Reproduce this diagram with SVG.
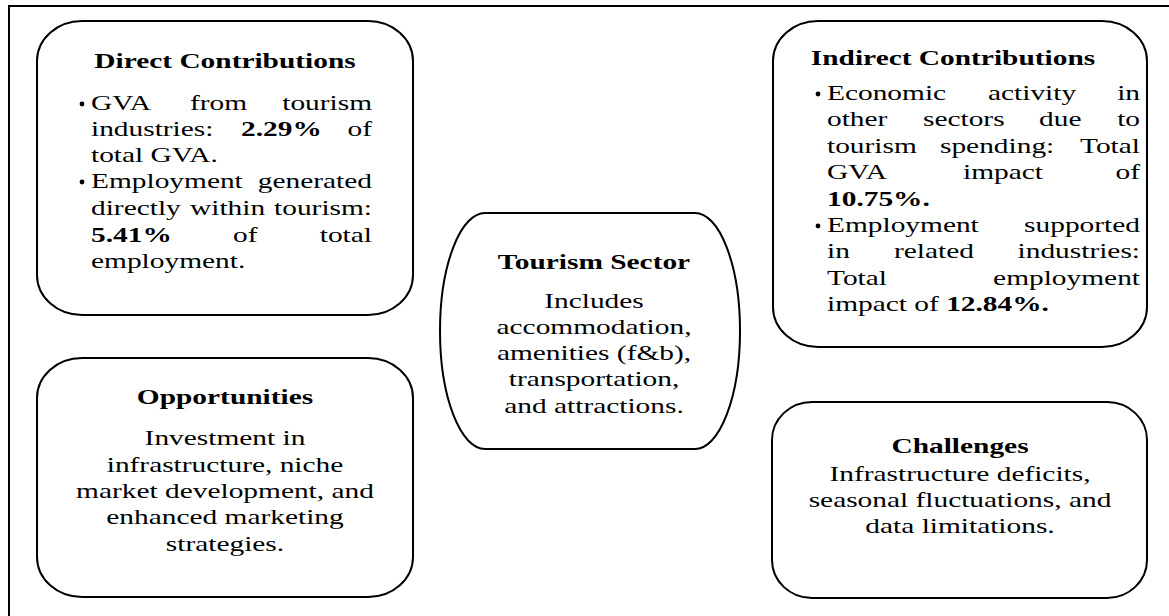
<svg xmlns="http://www.w3.org/2000/svg" width="1169" height="616" viewBox="0 0 1169 616">
  <style>
    .t { font-family: "Liberation Serif", "Times New Roman", serif; font-size: 21px; fill: #000; }
    .b { font-weight: bold; }
    .m { text-anchor: middle; }
    .e { text-anchor: end; }
    .box { fill: #fff; stroke: #000; stroke-width: 2; }
    .frame { fill: none; stroke: #000; stroke-width: 2; }
    .dot { fill: #000; }
  </style>

  <rect width="1169" height="616" fill="#fff"/>

  <!-- outer frame (runs off the right and bottom edges) -->
  <path class="frame" d="M9,620 V6 H1175"/>

  <!-- no connectors are drawn between the panels -->
  <g id="connectors"></g>

  <!-- Direct Contributions -->
  <g id="direct">
    <rect class="box" x="37" y="21" width="376" height="294" rx="45" ry="40"/>
    <text class="t b m" transform="translate(225 68) scale(1.4 1)">Direct Contributions</text>
    <circle class="dot" cx="82" cy="104" r="2.4"/>
    <text class="t" transform="translate(91 110) scale(1.4 1)">GVA</text>
    <text class="t" transform="translate(190 110) scale(1.4 1)">from</text>
    <text class="t e" transform="translate(372 110) scale(1.4 1)">tourism</text>
    <text class="t" transform="translate(91 136) scale(1.4 1)">industries:</text>
    <text class="t b" transform="translate(241 136) scale(1.4 1)">2.29%</text>
    <text class="t e" transform="translate(372 136) scale(1.4 1)">of</text>
    <text class="t" transform="translate(91 162) scale(1.4 1)">total GVA.</text>
    <circle class="dot" cx="82" cy="182" r="2.4"/>
    <text class="t" transform="translate(91 188) scale(1.4 1)">Employment</text>
    <text class="t e" transform="translate(372 188) scale(1.4 1)">generated</text>
    <text class="t" transform="translate(91 215) scale(1.4 1)">directly</text>
    <text class="t" transform="translate(190 215) scale(1.4 1)">within</text>
    <text class="t e" transform="translate(372 215) scale(1.4 1)">tourism:</text>
    <text class="t b" transform="translate(91 242) scale(1.4 1)">5.41%</text>
    <text class="t" transform="translate(233 242) scale(1.4 1)">of</text>
    <text class="t e" transform="translate(372 242) scale(1.4 1)">total</text>
    <text class="t" transform="translate(91 268) scale(1.4 1)">employment.</text>
  </g>

  <!-- Opportunities -->
  <g id="opportunities">
    <rect class="box" x="37" y="358" width="376" height="239" rx="45" ry="40"/>
    <text class="t b m" transform="translate(225 404) scale(1.4 1)">Opportunities</text>
    <text class="t m" transform="translate(225 445) scale(1.4 1)">Investment in</text>
    <text class="t m" transform="translate(225 472) scale(1.4 1)">infrastructure, niche</text>
    <text class="t m" transform="translate(225 498) scale(1.4 1)">market development, and</text>
    <text class="t m" transform="translate(225 524) scale(1.4 1)">enhanced marketing</text>
    <text class="t m" transform="translate(225 551) scale(1.4 1)">strategies.</text>
  </g>

  <!-- Tourism Sector -->
  <g id="tourism">
    <rect class="box" x="440" y="213" width="300" height="236" rx="45" ry="118"/>
    <text class="t b m" transform="translate(594 269) scale(1.4 1)">Tourism Sector</text>
    <text class="t m" transform="translate(594 308) scale(1.4 1)">Includes</text>
    <text class="t m" transform="translate(594 334) scale(1.4 1)">accommodation,</text>
    <text class="t m" transform="translate(594 360) scale(1.4 1)">amenities (f&amp;b),</text>
    <text class="t m" transform="translate(594 386) scale(1.4 1)">transportation,</text>
    <text class="t m" transform="translate(594 413) scale(1.4 1)">and attractions.</text>
  </g>

  <!-- Indirect Contributions -->
  <g id="indirect">
    <rect class="box" x="773" y="21" width="374" height="326" rx="45" ry="40"/>
    <text class="t b m" transform="translate(953 65) scale(1.4 1)">Indirect Contributions</text>
    <circle class="dot" cx="818" cy="94" r="2.4"/>
    <text class="t" transform="translate(827 100) scale(1.4 1)">Economic</text>
    <text class="t" transform="translate(988 100) scale(1.4 1)">activity</text>
    <text class="t e" transform="translate(1140 100) scale(1.4 1)">in</text>
    <text class="t" transform="translate(827 126) scale(1.4 1)">other</text>
    <text class="t" transform="translate(923 126) scale(1.4 1)">sectors</text>
    <text class="t" transform="translate(1039 126) scale(1.4 1)">due</text>
    <text class="t e" transform="translate(1140 126) scale(1.4 1)">to</text>
    <text class="t" transform="translate(827 153) scale(1.4 1)">tourism</text>
    <text class="t" transform="translate(940 153) scale(1.4 1)">spending:</text>
    <text class="t e" transform="translate(1140 153) scale(1.4 1)">Total</text>
    <text class="t" transform="translate(827 179) scale(1.4 1)">GVA</text>
    <text class="t" transform="translate(963 179) scale(1.4 1)">impact</text>
    <text class="t e" transform="translate(1140 179) scale(1.4 1)">of</text>
    <text class="t b" transform="translate(827 206) scale(1.4 1)">10.75%.</text>
    <circle class="dot" cx="818" cy="226" r="2.4"/>
    <text class="t" transform="translate(827 232) scale(1.4 1)">Employment</text>
    <text class="t e" transform="translate(1140 232) scale(1.4 1)">supported</text>
    <text class="t" transform="translate(827 258) scale(1.4 1)">in</text>
    <text class="t" transform="translate(894 258) scale(1.4 1)">related</text>
    <text class="t e" transform="translate(1140 258) scale(1.4 1)">industries:</text>
    <text class="t" transform="translate(827 285) scale(1.4 1)">Total</text>
    <text class="t e" transform="translate(1140 285) scale(1.4 1)">employment</text>
    <text class="t" transform="translate(827 311) scale(1.4 1)">impact of <tspan class="b">12.84%.</tspan></text>
  </g>

  <!-- Challenges -->
  <g id="challenges">
    <rect class="box" x="772" y="402" width="375" height="196" rx="40" ry="38"/>
    <text class="t b m" transform="translate(960 453) scale(1.4 1)">Challenges</text>
    <text class="t m" transform="translate(960 481) scale(1.4 1)">Infrastructure deficits,</text>
    <text class="t m" transform="translate(960 507) scale(1.4 1)">seasonal fluctuations, and</text>
    <text class="t m" transform="translate(960 533) scale(1.4 1)">data limitations.</text>
  </g>
</svg>
